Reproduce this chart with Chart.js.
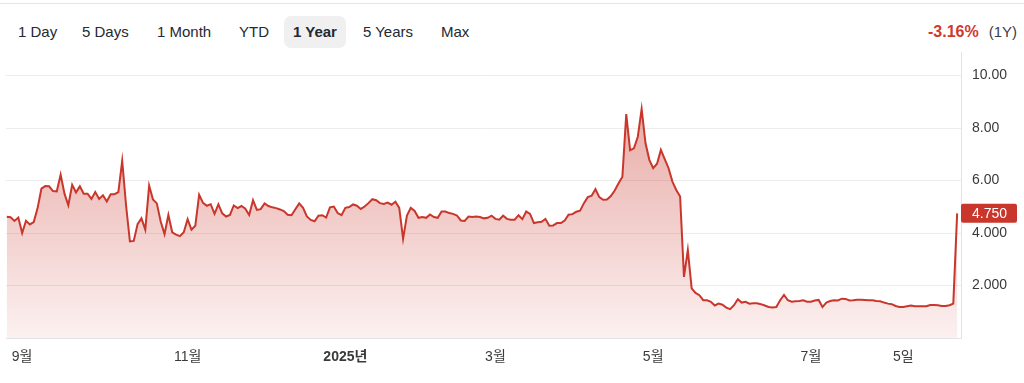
<!DOCTYPE html>
<html>
<head>
<meta charset="utf-8">
<script src="https://cdn.jsdelivr.net/npm/chart.js@4.4.1/dist/chart.umd.min.js"></script>
<style>
  html, body { margin: 0; padding: 0; background: #fff; }
  body { width: 1024px; height: 383px; position: relative; overflow: hidden;
         font-family: "Liberation Sans", "Noto Sans CJK KR", sans-serif; color: #232a31; }
  .topline { position: absolute; left: 0; top: 3px; width: 1024px; height: 1px; background: #e6e6e6; }
  .ranges { position: absolute; top: 16px; left: 0; height: 32px; }
  .ranges span { position: absolute; top: 0; height: 32px; line-height: 32px; font-size: 15px; white-space: nowrap; }
  .ranges span.on { background: #f0f0f0; border-radius: 7px; font-weight: bold; padding: 0 9px; }
  .change { position: absolute; right: 7px; top: 16px; line-height: 32px; font-size: 15px; white-space: nowrap; }
  .change b { color: #d0392d; font-size: 16px; margin-right: 10px; }
  .change span { color: #3b4046; }
  #chart { position: absolute; left: 0; top: 0; }
</style>
</head>
<body>
<div class="topline"></div>
<div class="ranges">
  <span style="left:18px">1 Day</span>
  <span style="left:82px">5 Days</span>
  <span style="left:157px">1 Month</span>
  <span style="left:239px">YTD</span>
  <span class="on" style="left:284px">1 Year</span>
  <span style="left:363px">5 Years</span>
  <span style="left:441px">Max</span>
</div>
<div class="change"><b>-3.16%</b><span>(1Y)</span></div>
<canvas id="chart" width="1024" height="383"></canvas>

<script>
// daily closes, one year (trading days)
const prices = [
  4.62, 4.60, 4.46, 4.59, 4.00, 4.47, 4.33, 4.42, 4.94, 5.69,
  5.79, 5.78, 5.60, 5.59, 6.22, 5.50, 5.06, 5.84, 5.55, 5.78,
  5.50, 5.50, 5.30, 5.56, 5.30, 5.44, 5.20, 5.48, 5.48, 5.56,
  6.75, 5.06, 3.68, 3.70, 4.34, 4.56, 4.13, 5.81, 5.28, 5.13,
  4.44, 3.96, 4.69, 4.03, 3.94, 3.88, 4.03, 4.53, 4.13, 4.28,
  5.46, 5.15, 5.04, 5.10, 4.73, 5.09, 4.75, 4.63, 4.69, 5.05,
  4.95, 5.03, 4.93, 4.69, 5.25, 4.88, 4.91, 5.13, 5.03, 4.98,
  4.95, 4.90, 4.84, 4.70, 4.68, 4.91, 5.13, 4.96, 4.63, 4.50,
  4.45, 4.66, 4.68, 4.59, 4.98,
  5.01, 4.76, 4.68, 4.96, 4.99, 5.09, 5.04, 4.92, 5.01, 5.14,
  5.29, 5.25, 5.14, 5.11, 5.16, 5.08, 5.19, 4.96, 3.78, 4.67,
  4.96, 4.84, 4.58, 4.61, 4.58, 4.71, 4.61, 4.58, 4.82, 4.82,
  4.76, 4.73, 4.67, 4.48, 4.46, 4.63, 4.61, 4.63, 4.61, 4.56,
  4.58, 4.66, 4.54, 4.51, 4.66, 4.54, 4.51, 4.51, 4.68, 4.53,
  4.82, 4.73, 4.38, 4.41, 4.43, 4.54, 4.28, 4.29, 4.38, 4.38,
  4.48, 4.70, 4.72, 4.81, 4.85, 5.14, 5.37, 5.42, 5.67, 5.37,
  5.27, 5.28, 5.41, 5.62, 5.90, 6.15, 8.53, 7.16, 7.23, 7.67,
  8.73, 7.43, 6.79, 6.47, 6.64, 7.17, 6.82, 6.47, 5.96, 5.64,
  5.39, 2.33, 3.35, 1.89, 1.72, 1.63, 1.44, 1.44, 1.38, 1.24,
  1.31, 1.27, 1.16, 1.10, 1.25, 1.48, 1.35, 1.38, 1.31, 1.32,
  1.32, 1.29, 1.24, 1.18, 1.16, 1.18, 1.44, 1.64, 1.44, 1.38,
  1.40, 1.41, 1.44, 1.38, 1.38, 1.43, 1.45, 1.18, 1.35, 1.41,
  1.44, 1.43, 1.50, 1.49, 1.43, 1.44, 1.46, 1.46, 1.45, 1.44,
  1.44, 1.41, 1.40, 1.35, 1.31, 1.29, 1.22, 1.18, 1.18, 1.21,
  1.24, 1.21, 1.21, 1.21, 1.21, 1.26, 1.26, 1.25, 1.22, 1.22,
  1.25, 1.31, 4.75
];

// x-axis labels and the trading-day index they sit on
const xTickLabels = ['9월', '11월', '2025년', '3월', '5월', '7월', '5일'];
const xTickIndex = [4, 47, 88, 127, 168, 209, 233];

const yTickValues = [2, 4, 6, 8, 10];
const yTickLabels = ['2.000', '4.000', '6.00', '8.00', '10.00'];

const lastPrice = prices[prices.length - 1];
const lastLabel = '4.750';

const RED = '#c9372c';
const FONT = '"Liberation Sans", "Noto Sans CJK KR", sans-serif';

const points = prices.map((v, i) => ({ x: i, y: v }));

const priceTag = {
  id: 'priceTag',
  afterDraw(chart) {
    const c = chart.ctx;
    const area = chart.chartArea;
    const y = chart.scales.y.getPixelForValue(lastPrice);
    c.save();
    c.fillStyle = RED;
    c.beginPath();
    c.roundRect(area.right, y - 9.5, 56, 19, 2);
    c.fill();
    c.fillStyle = '#fff';
    c.font = '14px ' + FONT;
    c.textBaseline = 'middle';
    c.textAlign = 'left';
    c.fillText(lastLabel, area.right + 11, y + 0.5);
    c.restore();
  }
};

new Chart(document.getElementById('chart'), {
  type: 'line',
  data: {
    datasets: [{
      data: points,
      borderColor: RED,
      borderWidth: 2,
      pointRadius: 0,
      tension: 0,
      fill: 'start',
      backgroundColor: (ctx) => {
        const area = ctx.chart.chartArea;
        if (!area) return 'rgba(201,55,44,0.2)';
        const g = ctx.chart.ctx.createLinearGradient(0, area.top, 0, area.bottom);
        g.addColorStop(0, 'rgba(201,55,44,0.5)');
        g.addColorStop(1, 'rgba(201,55,44,0.07)');
        return g;
      }
    }]
  },
  options: {
    responsive: false,
    animation: false,
    layout: { padding: { left: 6, top: 52, right: 0, bottom: 0 } },
    plugins: { legend: { display: false }, tooltip: { enabled: false } },
    scales: {
      x: {
        type: 'linear',
        min: -0.2,
        max: 248,
        grid: { display: false, drawTicks: false },
        border: { display: true, color: '#e3e3e3', width: 1 },
        afterBuildTicks: (scale) => { scale.ticks = xTickIndex.map(v => ({ value: v })); },
        afterFit: (scale) => { scale.height = 45; },
        ticks: {
          autoSkip: false,
          maxRotation: 0,
          padding: 11,
          color: '#3a3a3a',
          font: (ctx) => ({
            family: FONT,
            size: 14,
            weight: (ctx.tick && ctx.tick.label === '2025년') ? 'bold' : 'normal'
          }),
          callback: (v) => xTickLabels[xTickIndex.indexOf(v)]
        }
      },
      y: {
        position: 'right',
        min: 0,
        max: 10.9,
        grid: { color: '#ececec', drawTicks: false },
        border: { display: true, color: '#e3e3e3', width: 1 },
        afterBuildTicks: (scale) => { scale.ticks = yTickValues.map(v => ({ value: v })); },
        afterFit: (scale) => { scale.width = 63; },
        ticks: {
          padding: 11,
          color: '#3a3a3a',
          font: { family: FONT, size: 14 },
          callback: (v) => yTickLabels[yTickValues.indexOf(v)]
        }
      }
    }
  },
  plugins: [priceTag]
});
</script>
</body>
</html>
